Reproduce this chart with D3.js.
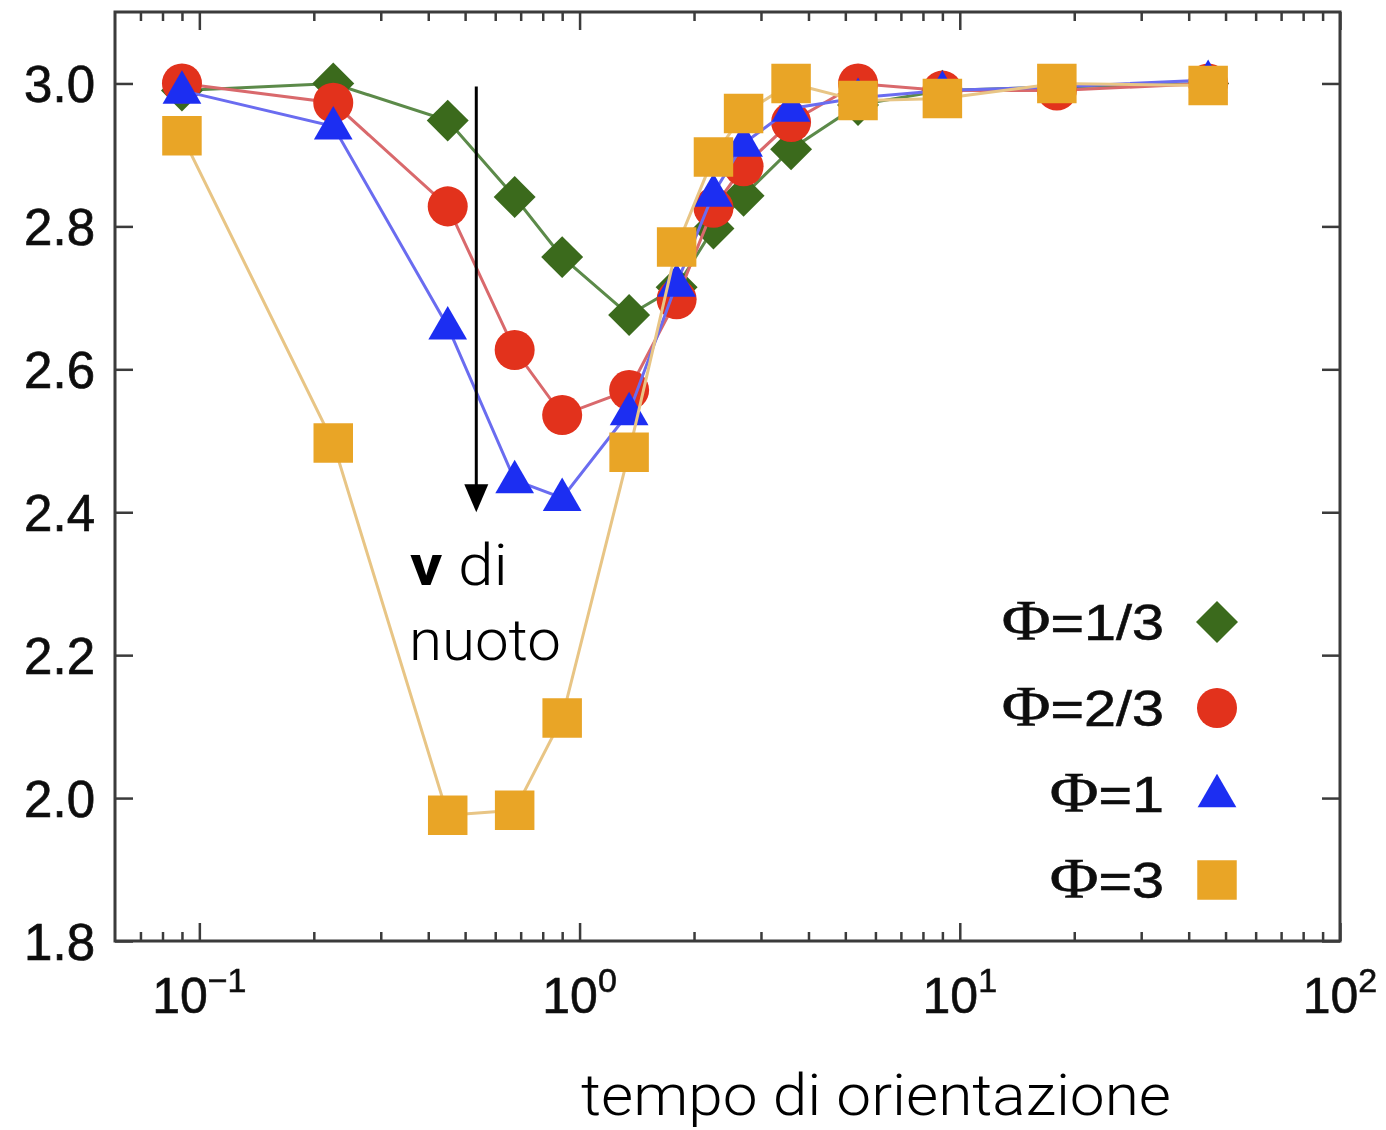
<!DOCTYPE html>
<html>
<head>
<meta charset="utf-8">
<script src="https://cdn.jsdelivr.net/npm/d3@7"></script>
<style>
  html, body { margin: 0; padding: 0; background: #fff; }
  svg { display: block; }
</style>
</head>
<body>
<svg id="chart" width="1386" height="1130"></svg>
<script>
// Orientation time (x, log scale) shared by all series
const tau = [0.09, 0.225, 0.45, 0.675, 0.9, 1.35, 1.8, 2.25, 2.7, 3.6, 5.4, 9, 18, 45];

// Swimming speed for each value of Φ
const phiOneThird  = [2.99, 3.00, 2.948, 2.841, 2.757, 2.676, 2.715, 2.797, 2.843, 2.908, 2.97, 2.99, 2.995, 3.00];
const phiTwoThirds = [3.00, 2.973, 2.828, 2.627, 2.536, 2.571, 2.698, 2.826, 2.884, 2.946, 3.00, 2.99, 2.99, 3.00];
const phiOne       = [2.99, 2.94, 2.66, 2.445, 2.42, 2.54, 2.72, 2.846, 2.916, 2.965, 2.98, 2.99, 2.995, 3.005];
const phiThree     = [2.927, 2.497, 1.976, 1.983, 2.112, 2.484, 2.771, 2.897, 2.958, 3.00, 2.976, 2.979, 3.00, 2.997];

const seriesNames = ["1/3", "2/3", "1", "3"];
const yTickValues = [1.8, 2.0, 2.2, 2.4, 2.6, 2.8, 3.0];
const xDecades = [-1, 0, 1, 2];

const series = [
  { name: seriesNames[0], values: phiOneThird,  shape: "diamond",  fill: "#3a6a1d", line: "#5b8a4a" },
  { name: seriesNames[1], values: phiTwoThirds, shape: "circle",   fill: "#e2301c", line: "#d9696c" },
  { name: seriesNames[2], values: phiOne,       shape: "triangle", fill: "#1f2ff2", line: "#6a6cf0" },
  { name: seriesNames[3], values: phiThree,     shape: "square",   fill: "#e9a528", line: "#e8c585" }
];

const svg = d3.select("#chart");
const frame = { left: 115, right: 1340, top: 12, bottom: 941 };

const x = d3.scaleLog().domain([0.06, 100]).range([frame.left, frame.right]);
const y = d3.scaleLinear().domain([1.8, 3.1]).range([frame.bottom, frame.top]);

// soft rendering of the plotted figure
const defs = svg.append("defs");
defs.append("filter").attr("id", "soft")
  .attr("x", "-5%").attr("y", "-5%").attr("width", "110%").attr("height", "110%")
  .append("feGaussianBlur").attr("stdDeviation", 0.7);

const plot = svg.append("g").attr("filter", "url(#soft)");
const axisFont = "'Liberation Sans', Arial, Helvetica, sans-serif";
const ink = "#111";

// tick positions
const majors = xDecades.map(d => Math.pow(10, d));
const minors = [];
for (let d = -2; d <= 1; d++) {
  for (let k = 2; k <= 9; k++) {
    const v = k * Math.pow(10, d);
    if (v > x.domain()[0] && v < x.domain()[1]) minors.push(v);
  }
}

function styleAxis(g) {
  g.select(".domain").remove();
  g.selectAll(".tick line").attr("stroke", "#3a3a3a").attr("stroke-width", 2.5);
}

// bottom and top ticks (inward)
plot.append("g").attr("transform", `translate(0,${frame.bottom})`)
  .call(d3.axisBottom(x).tickValues(majors).tickSize(-18).tickFormat("")).call(styleAxis);
plot.append("g").attr("transform", `translate(0,${frame.bottom})`)
  .call(d3.axisBottom(x).tickValues(minors).tickSize(-9).tickFormat("")).call(styleAxis);
plot.append("g").attr("transform", `translate(0,${frame.top})`)
  .call(d3.axisTop(x).tickValues(majors).tickSize(-18).tickFormat("")).call(styleAxis);
plot.append("g").attr("transform", `translate(0,${frame.top})`)
  .call(d3.axisTop(x).tickValues(minors).tickSize(-9).tickFormat("")).call(styleAxis);

// left axis with labels, right mirrored ticks
const yAxisG = plot.append("g").attr("transform", `translate(${frame.left},0)`)
  .call(d3.axisLeft(y).tickValues(yTickValues).tickSize(-18).tickPadding(20).tickFormat(d3.format(".1f")))
  .call(styleAxis);
yAxisG.selectAll(".tick text")
  .attr("font-family", axisFont).attr("font-size", 51).attr("fill", ink)
  .attr("stroke", ink).attr("stroke-width", 0.7).attr("dy", "0.36em");
plot.append("g").attr("transform", `translate(${frame.right},0)`)
  .call(d3.axisRight(y).tickValues(yTickValues).tickSize(-18).tickFormat("")).call(styleAxis);

// x tick labels as powers of ten
const xLabels = plot.append("g").attr("font-family", axisFont).attr("fill", ink)
  .attr("stroke", ink).attr("stroke-width", 0.6);
xDecades.forEach(d => {
  const t = xLabels.append("text")
    .attr("x", x(Math.pow(10, d)))
    .attr("y", frame.bottom + 72)
    .attr("text-anchor", "middle")
    .attr("font-size", 50);
  t.append("tspan").text("10");
  t.append("tspan").attr("font-size", 34).attr("dy", -21).text(d < 0 ? "\u2212" + Math.abs(d) : String(d));
});

// frame
plot.append("rect")
  .attr("x", frame.left).attr("y", frame.top)
  .attr("width", frame.right - frame.left).attr("height", frame.bottom - frame.top)
  .attr("fill", "none").attr("stroke", "#3a3a3a").attr("stroke-width", 3);

// marker shapes
function markerPath(shape) {
  switch (shape) {
    case "diamond":  return d3.symbol().type(d3.symbolSquare).size(880)();
    case "circle":   return d3.symbol().type(d3.symbolCircle).size(1257)();
    case "triangle": return d3.symbol().type(d3.symbolTriangle).size(650)();
    default:         return d3.symbol().type(d3.symbolSquare).size(1560)();
  }
}
function markerTransform(shape, px, py) {
  if (shape === "diamond") return `translate(${px},${py}) rotate(45)`;
  if (shape === "triangle") return `translate(${px},${py + 2})`;
  return `translate(${px},${py})`;
}

const line = d3.line().x(d => x(d[0])).y(d => y(d[1]));

series.forEach(s => {
  const pts = tau.map((t, i) => [t, s.values[i]]);
  const g = plot.append("g");
  g.append("path").datum(pts)
    .attr("d", line).attr("fill", "none")
    .attr("stroke", s.line).attr("stroke-width", 3);
  g.selectAll("path.pt").data(pts).join("path")
    .attr("class", "pt")
    .attr("d", markerPath(s.shape))
    .attr("transform", d => markerTransform(s.shape, x(d[0]), y(d[1])))
    .attr("fill", s.fill);
});

// legend
const legend = plot.append("g");
const legendTextRight = 1164, legendMarkerX = 1217, legendTop = 622, legendStep = 86;
series.forEach((s, i) => {
  const cy = legendTop + i * legendStep;
  const row = legend.append("g").attr("transform", `translate(${legendTextRight},${cy + 18}) scale(1.15,1)`);
  const t = row.append("text").attr("text-anchor", "end").attr("font-size", 50)
    .attr("fill", ink).attr("stroke", ink).attr("stroke-width", 0.6);
  t.append("tspan").attr("font-family", "'Liberation Serif', 'Times New Roman', serif").attr("font-size", 58).text("\u03A6");
  t.append("tspan").attr("font-family", axisFont).text("=" + s.name);
  legend.append("path")
    .attr("d", markerPath(s.shape))
    .attr("transform", markerTransform(s.shape, legendMarkerX, cy))
    .attr("fill", s.fill);
});

// annotation: downward arrow and labels
const arrowX = x(0.535);
const arrowTop = y(3.0) + 3, arrowTip = y(2.4);
const note = svg.append("g");
note.append("line")
  .attr("x1", arrowX).attr("x2", arrowX)
  .attr("y1", arrowTop).attr("y2", arrowTip - 22)
  .attr("stroke", "#000").attr("stroke-width", 3);
note.append("path")
  .attr("d", d3.line()([[arrowX - 12, arrowTip - 28], [arrowX + 12, arrowTip - 28], [arrowX, arrowTip]]) + "Z")
  .attr("fill", "#000");

const lightFont = "Roboto, Lato, 'Open Sans', sans-serif";
const noteText = note.append("text")
  .attr("x", 410).attr("y", 585)
  .attr("font-family", lightFont).attr("font-weight", 300).attr("font-size", 58).attr("fill", "#000")
  .attr("textLength", 98).attr("lengthAdjust", "spacingAndGlyphs");
noteText.append("tspan").attr("font-weight", 700).text("v");
noteText.append("tspan").text(" di");
note.append("text")
  .attr("x", 409).attr("y", 660)
  .attr("font-family", lightFont).attr("font-weight", 300).attr("font-size", 58).attr("fill", "#000")
  .attr("textLength", 152).attr("lengthAdjust", "spacingAndGlyphs")
  .text("nuoto");

svg.append("text")
  .attr("x", 581).attr("y", 1115)
  .attr("font-family", lightFont).attr("font-weight", 300).attr("font-size", 58).attr("fill", "#000")
  .attr("textLength", 590).attr("lengthAdjust", "spacingAndGlyphs")
  .text("tempo di orientazione");
</script>
</body>
</html>
